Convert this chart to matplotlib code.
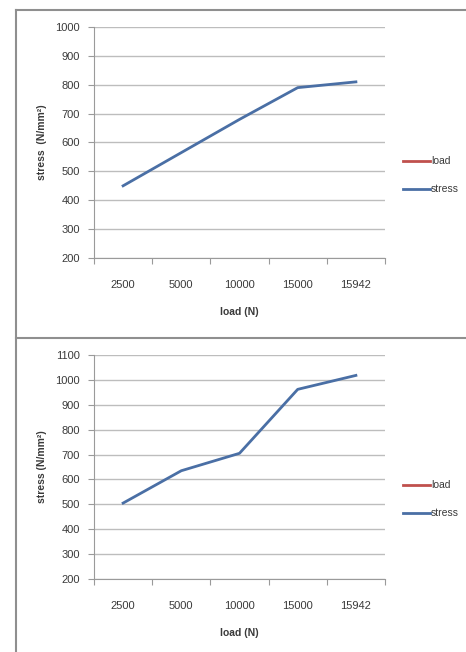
import matplotlib
matplotlib.use("Agg")
import matplotlib.pyplot as plt
from matplotlib.lines import Line2D

plt.rcParams['font.family'] = ['Liberation Sans', 'DejaVu Sans']

load_labels = ["2500", "5000", "10000", "15000", "15942"]
load_values = [2500, 5000, 10000, 15000, 15942]
stress_top = [450, 565, 680, 790, 810]
stress_bottom = [505, 635, 705, 962, 1018]

ylims = [(200, 1000), (200, 1100)]
ylabels = ["stress  (N/mm²)", "stress (N/mm²)"]

W, H = 466, 652
fig = plt.figure(figsize=(W / 100, H / 100), dpi=100)

text_col = "#3a3a3a"
grid_col = "#bdbdbd"
axis_col = "#9a9a9a"
blue = "#4a6fa5"
red = "#c0504d"

# axes boxes in pixel space: (left, top, right, bottom)
boxes = [(94, 27, 385, 258), (94, 355, 385, 579)]
legend_y = [(161, 189), (485, 513)]
xlabel_top = [307, 628]

for stress, (y0, y1), ylab, box, ly, xt in zip(
        [stress_top, stress_bottom], ylims, ylabels, boxes, legend_y, xlabel_top):
    l, t, r, b = box
    ax = fig.add_axes([l / W, 1 - b / H, (r - l) / W, (b - t) / H])
    x = list(range(len(load_labels)))
    ax.plot(x, load_values, color=red, lw=2, label="load")
    ax.plot(x, stress, color=blue, lw=2, label="stress")
    ax.set_xlim(-0.5, len(load_labels) - 0.5)
    ax.set_ylim(y0, y1)
    ax.set_yticks(range(y0, y1 + 1, 100))
    ax.set_xticks(x)
    ax.set_xticklabels(load_labels)
    ax.set_xticks([k + 0.5 for k in range(-1, len(load_labels))], minor=True)
    ax.tick_params(axis='x', which='major', length=0, pad=16, labelsize=8,
                   labelcolor=text_col)
    ax.tick_params(axis='x', which='minor', length=4, color=axis_col, width=0.8)
    ax.tick_params(axis='y', length=4, color=axis_col, width=0.8, pad=6,
                   labelsize=8, labelcolor=text_col)
    ax.grid(axis='y', color=grid_col, lw=1)
    ax.set_axisbelow(True)
    for s in ("top", "right"):
        ax.spines[s].set_visible(False)
    for s in ("left", "bottom"):
        ax.spines[s].set_color(axis_col)
        ax.spines[s].set_linewidth(0.8)
    ax.set_xlabel("load (N)", fontsize=7.5, fontweight='bold', color=text_col)
    ax.xaxis.set_label_coords(0.5, -(xt - b) / (b - t))
    ax.set_ylabel(ylab, fontsize=7.5, fontweight='bold', color=text_col)
    ax.yaxis.set_label_coords((47 - l) / (r - l), 0.5)

    # legend entries placed to the right of the plot area
    for lab, col, yy in zip(["load", "stress"], [red, blue], ly):
        fy = 1 - yy / H
        fig.add_artist(Line2D([403 / W, 430 / W], [fy, fy], color=col, lw=2))
        fig.text(431 / W, fy, lab, fontsize=7.5, color=text_col, va='center', ha='left')

# panel frames
frame_col = "#8f8f8f"
fig.add_artist(Line2D([16 / W, 16 / W], [0, 1 - 10 / H], color=frame_col, lw=1.5))
fig.add_artist(Line2D([16 / W, 1], [1 - 10 / H, 1 - 10 / H], color=frame_col, lw=1.5))
fig.add_artist(Line2D([16 / W, 1], [1 - 338 / H, 1 - 338 / H], color=frame_col, lw=1.5))

fig.savefig("out.png", dpi=100, facecolor="white")
